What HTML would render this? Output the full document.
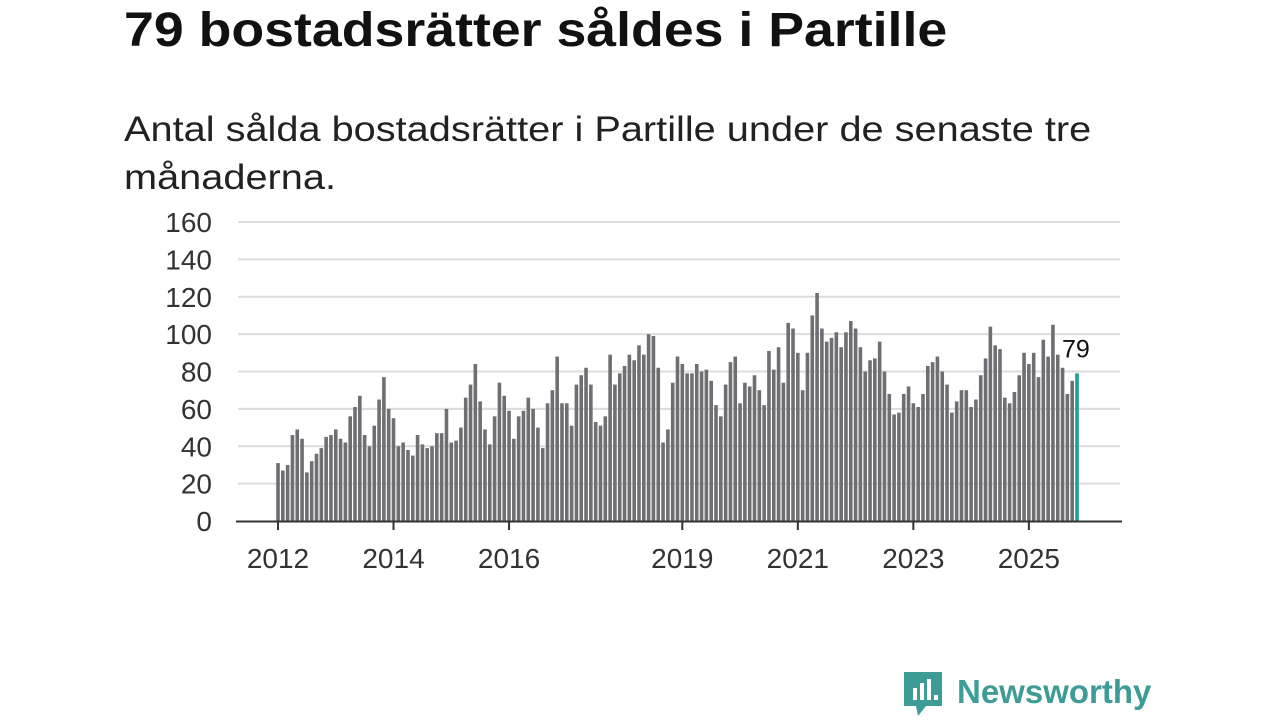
<!DOCTYPE html>
<html><head><meta charset="utf-8">
<style>
body{margin:0;width:1280px;height:720px;background:#fff;font-family:"Liberation Sans","DejaVu Sans",sans-serif;overflow:hidden;position:relative}
h1{position:absolute;left:124px;top:3px;margin:0;font-size:48px;font-weight:bold;color:#111;white-space:nowrap;transform:scaleX(1.118);transform-origin:0 0}
p{position:absolute;left:124px;top:106px;margin:0;font-size:35px;line-height:48px;color:#222;white-space:nowrap;transform:scaleX(1.135);transform-origin:0 0}
svg{position:absolute;left:0;top:0}
</style></head><body>
<h1>79 bostadsrätter såldes i Partille</h1>
<p>Antal sålda bostadsrätter i Partille under de senaste tre<br>månaderna.</p>
<svg id="chart" width="1280" height="720"></svg>
<script>
const values=[31,27,30,46,49,44,26,32,36,39,45,46,
49,44,42,56,61,67,46,40,51,65,77,60,
55,40,42,38,35,46,41,39,40,47,47,60,
42,43,50,66,73,84,64,49,41,56,74,67,
59,44,56,59,66,60,50,39,63,70,88,63,
63,51,73,78,82,73,53,51,56,89,73,79,
83,89,86,94,89,100,99,82,42,49,74,88,
84,79,79,84,80,81,75,62,56,73,85,88,
63,74,72,78,70,62,91,81,93,74,106,103,
90,70,90,110,122,103,96,98,101,93,101,107,
103,93,80,86,87,96,80,68,57,58,68,72,
63,61,68,83,85,88,80,73,58,64,70,70,
61,65,78,87,104,94,92,66,63,69,78,90,
84,90,77,97,88,105,89,82,68,75,79];
const yTicks=[0,20,40,60,80,100,120,140,160];
const xTickLabels=["2012","2014","2016","2019","2021","2023","2025"];
const xTickIndex=[0,24,48,84,108,132,156];
const NS="http://www.w3.org/2000/svg";
const svg=document.getElementById('chart');
const y0=521,y1=222,vmax=160,xFirst=278,xLast=1077;
const step=(xLast-xFirst)/(values.length-1);
const yScale=v=>y0-v*(y0-y1)/vmax;
const xScale=i=>xFirst+i*step;
function mk(t,a){const e=document.createElementNS(NS,t);for(const k in a)e.setAttribute(k,a[k]);svg.appendChild(e);return e;}
yTicks.forEach(t=>{
  if(t>0){const g=mk('line',{x1:238,x2:1120,y1:yScale(t),y2:yScale(t),stroke:'#dcdcdc','stroke-width':2});
  
  }
  const l=mk('text',{x:212,y:yScale(t)+10,'text-anchor':'end','font-size':28,fill:'#333'});
  l.textContent=t;
  
  
});
values.forEach((v,i)=>{
  const last=i===values.length-1;
  const r=mk('rect',{x:xScale(i)-1.8,y:yScale(v),width:3.6,height:y0-yScale(v),fill:last?'#1a9e96':'#6f6e73'});
  
  
});
const ax=mk('line',{x1:236,x2:1122,y1:y0+0.5,y2:y0+0.5,stroke:'#333','stroke-width':2});


xTickIndex.forEach((ix,k)=>{
  const x=xScale(ix);
  const tk=mk('line',{x1:x,x2:x,y1:y0,y2:y0+9,stroke:'#333','stroke-width':2});
  
  
  const t=mk('text',{x:x,y:568,'text-anchor':'middle','font-size':28,fill:'#333'});
  t.textContent=xTickLabels[k];
  
  
});
const lv=values[values.length-1];
const lab=mk('text',{x:xScale(values.length-1)-15,y:yScale(lv)-16,'font-size':25,fill:'#111'});
lab.textContent=lv;


</script>
<svg width="1280" height="720" style="pointer-events:none">
  <path d="M904 672 h38 v34 h-16 l-8 10 l-2 -10 h-12 z" fill="#3d9c95"/>
  <rect x="913" y="688" width="4" height="12" fill="#fff"/>
  <rect x="920" y="683" width="4" height="17" fill="#fff"/>
  <rect x="927" y="679" width="4" height="21" fill="#fff"/>
  <rect x="934" y="695" width="4" height="5" fill="#fff"/>
  <text x="957" y="703" font-size="33" font-weight="bold" fill="#3d9c95" font-family="Liberation Sans, sans-serif">Newsworthy</text>
</svg>
</body></html>
